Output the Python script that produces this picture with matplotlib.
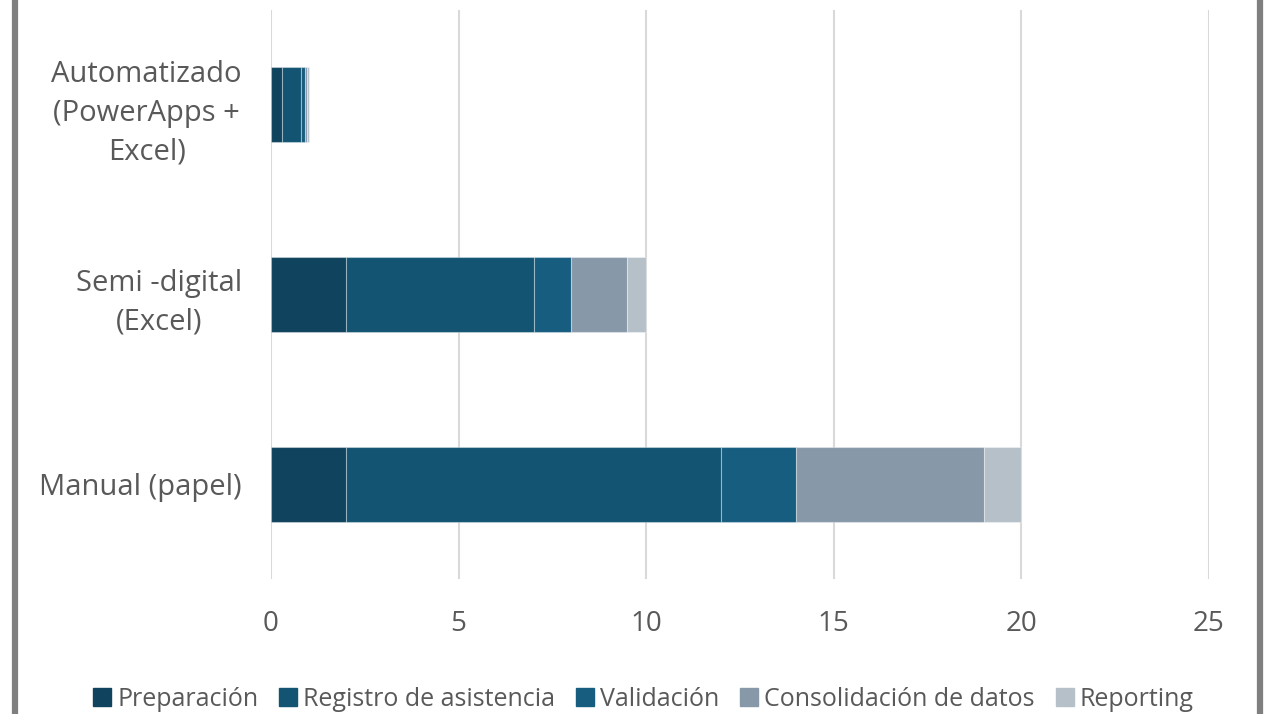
"""
Tiempo por fase: manual vs semi-digital vs automatizado
Horizontal stacked bars
"""

import matplotlib.pyplot as plt
from matplotlib.lines import Line2D

# Data
CATEGORIES = ['Manual (papel)', 'Semi -digital\n(Excel)', 'Automatizado\n(PowerApps +\nExcel)']
PHASES = ['Preparación', 'Registro de asistencia', 'Validación',
          'Consolidación de datos', 'Reporting']
preparacion = [2, 2, 0.3]
registro = [10, 5, 0.5]
validacion = [2, 1, 0.1]
consolidacion = [5, 1.5, 0.05]
reporting = [1, 0.5, 0.05]
X_TICKS = [0, 5, 10, 15, 20, 25]

COLORS = ['#10435D', '#125471', '#175D80', '#8799A9', '#B6C0C9']
TEXT_COLOR = '#595959'

plt.rcParams['font.family'] = ['Open Sans', 'DejaVu Sans']

fig = plt.figure(figsize=(12.66, 7.14), dpi=100)
ax = fig.add_axes([271 / 1266, 135 / 714, (1209 - 271) / 1266, 569 / 714])

series = [preparacion, registro, validacion, consolidacion, reporting]
left = [0.0] * len(CATEGORIES)
for name, vals, color in zip(PHASES, series, COLORS):
    ax.barh(range(len(CATEGORIES)), vals, left=left, height=0.395,
            color=color, edgecolor=(1, 1, 1, 0.35), linewidth=0.8,
            label=name, zorder=3)
    left = [l + v for l, v in zip(left, vals)]

ax.set_xlim(0, 25)
ax.set_ylim(-0.5, 2.5)
ax.set_xticks(X_TICKS)
ax.set_xticklabels([str(t) for t in X_TICKS], fontsize=20, color=TEXT_COLOR)
ax.set_yticks(range(len(CATEGORIES)))
ax.set_yticklabels(CATEGORIES, fontsize=21, color=TEXT_COLOR,
                   multialignment='center', linespacing=1.45)
ax.tick_params(axis='both', length=0)
ax.tick_params(axis='y', pad=21)
ax.tick_params(axis='x', pad=22)

ax.grid(axis='x', color='#D9D9D9', linewidth=1.5, zorder=0)
for s in ax.spines.values():
    s.set_visible(False)

# legend along the bottom
handles = [Line2D([0], [0], marker='s', linestyle='none', markersize=13,
                  markerfacecolor=c, markeredgecolor=c) for c in COLORS]
fig.legend(handles, PHASES, loc='center', bbox_to_anchor=(643 / 1266, 1 - 699 / 714),
           ncol=5, frameon=False, fontsize=18, labelcolor=TEXT_COLOR,
           handlelength=0.8, handletextpad=0.2, columnspacing=0.8)

# grey frame edges
fig.add_artist(Line2D([15 / 1266, 15 / 1266], [0, 1], color='#7F7F7F', linewidth=4.5))
fig.add_artist(Line2D([1260 / 1266, 1260 / 1266], [0, 1], color='#7F7F7F', linewidth=4.5))

plt.savefig('out.png', dpi=100, facecolor='white')
plt.close()
